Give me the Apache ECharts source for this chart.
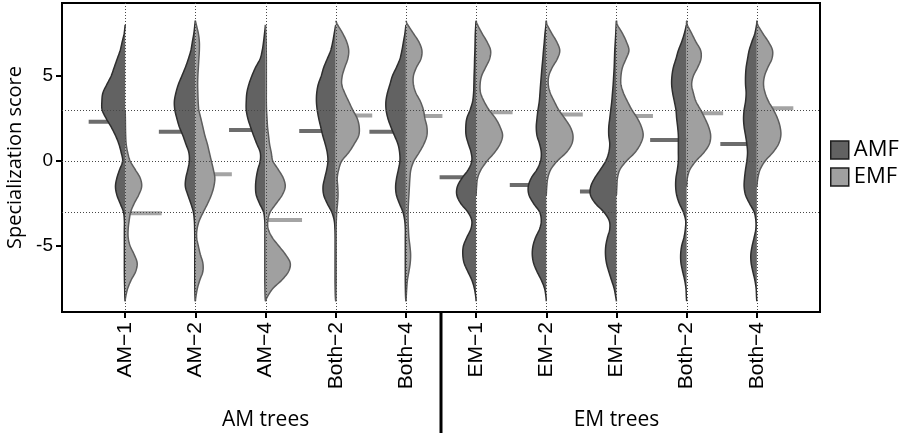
<!DOCTYPE html>
<html>
<head>
<meta charset="utf-8">
<script src="https://cdn.jsdelivr.net/npm/echarts@6/dist/echarts.min.js"></script>
<style>
  html, body { margin: 0; padding: 0; background: #fff; }
  #chart { width: 904px; height: 433px; }
</style>
</head>
<body>
<div id="chart"></div>
<script>
// Tree types (one split violin per type), grouped by host-tree mycorrhizal type
const CATEGORIES = ['AM\u22121', 'AM\u22122', 'AM\u22124', 'Both\u22122', 'Both\u22124',
                    'EM\u22121', 'EM\u22122', 'EM\u22124', 'Both\u22122', 'Both\u22124'];
const GROUP_NAMES = ['AM trees', 'EM trees'];
const GROUP_SIZES = [5, 5];

// Score levels at which the kernel densities are tabulated (top to bottom)
const SCORE_GRID = [8, 7.5, 7, 6.5, 6, 5.5, 5, 4.5, 4, 3.5, 3, 2.5, 2, 1.5, 1, 0.5, 0,
                    -0.5, -1, -1.5, -2, -2.5, -3, -3.5, -4, -4.5, -5, -5.5, -6, -6.5, -7, -7.5, -8];
// Observed score extent (violin tips)
const SCORE_RANGE = [-8.25, 8.25];

// AMF densities, one row per category, values follow SCORE_GRID
const AMF_DENSITY = [
  [0, 1, 3, 5, 8, 11, 14, 18.3, 22.3, 23.3, 23, 19, 14, 9.7, 6.3, 4, 2.5, 5.5, 8.3, 9.7, 8.3, 5, 1.7, 0.8, 0.8, 0.8, 0.8, 0.8, 0.8, 0.8, 0.7, 0.5, 0.3],
  [0.5, 1.5, 3, 4.5, 7, 10, 13.5, 17, 19.5, 21, 20.5, 18.5, 16, 12.5, 9.5, 6.5, 6, 7.5, 9.5, 10, 7.5, 4.5, 2, 1, 0.7, 0.6, 0.6, 0.6, 0.6, 0.6, 0.6, 0.5, 0.3],
  [0, 1, 2, 3.3, 5.5, 10, 13.7, 16.7, 18.7, 19.3, 19.3, 17.7, 15, 12, 8.7, 5.3, 5.3, 7.7, 9.3, 10, 9.3, 6, 2, 0.8, 0.6, 0.6, 0.6, 0.6, 0.6, 0.6, 0.6, 0.5, 0.3],
  [0, 1.5, 3, 5, 8.5, 12, 14.5, 17.5, 19, 19.3, 18.5, 17, 15, 13, 10.5, 8.5, 7.8, 9, 11, 12.7, 12, 8.5, 4, 1.5, 0.8, 0.6, 0.6, 0.6, 0.6, 0.6, 0.6, 0.5, 0.3],
  [0, 1, 2.5, 4, 6, 9.5, 13.5, 16, 18.5, 20, 19.8, 18, 15, 11.5, 8, 6.3, 6, 7.5, 9.3, 10.3, 9.5, 6.5, 3, 1.2, 0.6, 0.6, 0.6, 0.6, 0.6, 0.6, 0.6, 0.5, 0.3],
  [0.3, 0.8, 1, 1.2, 1.5, 1.7, 2, 2.2, 2.5, 3.5, 6, 9.3, 10.3, 10, 7.7, 5, 4.3, 7.7, 14, 18.7, 19.3, 15.3, 8.3, 4.3, 5.3, 9.3, 12.7, 13.3, 12, 8.3, 4.3, 1.7, 0.3],
  [0.3, 1.3, 2, 2.8, 3.5, 4.3, 5, 5.7, 6.3, 7, 8.3, 9.3, 10, 9.3, 6.7, 5, 5.7, 9.3, 15, 18, 17.3, 12.7, 6.7, 5, 6.7, 10.7, 13.3, 14, 12.7, 9.3, 5, 1.7, 0.3],
  [0.3, 0.7, 1.2, 1.7, 2, 2.3, 2.8, 3.3, 4, 4.7, 5.7, 6.7, 7.7, 7.7, 6.7, 7.7, 10.7, 16, 21.7, 25.7, 26, 21, 12.7, 7.3, 6.7, 9, 10.7, 11, 10, 7.7, 5, 2.3, 0.7],
  [0.3, 2.3, 5, 8.3, 10.7, 13.3, 14.7, 15, 14, 12.3, 10.7, 10, 9, 8.3, 8.3, 8.3, 8.3, 9.3, 10.7, 11, 10, 7.3, 3.3, 1, 1.3, 2.7, 5, 6, 5.7, 4, 2, 0.7, 0.3],
  [0.3, 2, 5, 7.7, 9.3, 10.7, 11.3, 11.3, 10.7, 11.3, 12.7, 13.3, 12.7, 11.3, 10, 9.3, 10, 11.3, 12.3, 12.7, 11.3, 7.3, 2.7, 1, 1, 2.7, 4.7, 6, 5.7, 4, 2, 0.7, 0.3]
];

// EMF densities, one row per category, values follow SCORE_GRID
const EMF_DENSITY = [
  [0, 0, 0, 0, 0, 0, 0, 0, 0, 0, 0, 0.2, 0.3, 0.5, 1, 2.5, 5, 10, 15, 16.5, 13.5, 9, 5.5, 4, 3, 3, 5, 9, 12, 10.5, 6, 2.5, 0.5],
  [1, 3, 4, 4, 3.5, 3, 2.5, 2.3, 2.5, 2.8, 3.5, 5.5, 7.5, 9.5, 12, 14, 16, 18, 19.5, 18.5, 16, 12.3, 8, 4, 1.7, 1.3, 3, 5, 7.5, 7.5, 4.5, 2, 0.5],
  [0, 0.3, 0.6, 0.7, 0.8, 0.8, 0.8, 0.8, 0.8, 0.8, 1, 1.5, 2, 3, 4, 5.7, 7.3, 12.7, 17.7, 19.7, 16.7, 10.7, 4.7, 2.3, 2.7, 6.7, 13.3, 20, 24.7, 23, 16.3, 7.3, 1.7],
  [2, 7, 11, 13, 12, 9, 6.5, 6, 9, 13, 17, 21.5, 23.5, 23, 18.5, 13, 6, 3, 1.5, 2, 2.3, 1.8, 1, 0.6, 0.4, 0.4, 0.4, 0.4, 0.4, 0.4, 0.4, 0.3, 0.2],
  [2, 7.5, 13, 16, 15, 10.5, 7.5, 7.5, 10, 14.5, 17.5, 19, 21, 21, 18, 13.3, 8, 5, 4, 3.5, 3, 2.5, 2.2, 2.2, 2.5, 3, 4, 4.7, 4.3, 3, 1.5, 0.8, 0.3],
  [1.5, 6, 11, 14.5, 13.5, 9.5, 5.5, 4, 4.5, 8, 13, 19.5, 24, 26.5, 24, 18.5, 11, 5, 1.5, 0.5, 0, 0, 0, 0, 0, 0, 0, 0, 0, 0, 0, 0, 0],
  [1, 5.5, 10.5, 13.5, 11, 6, 2.5, 2, 4, 8, 12.5, 18.5, 24, 26.7, 25.5, 20, 11, 4.5, 1.5, 0.5, 0, 0, 0, 0, 0, 0, 0, 0, 0, 0, 0, 0, 0],
  [1, 6, 10, 12.5, 9.5, 6, 4.5, 4.5, 7, 11, 15.5, 21, 25, 26.7, 24, 18.5, 10, 3.5, 1, 0.4, 0, 0, 0, 0, 0, 0, 0, 0, 0, 0, 0, 0, 0],
  [0.7, 5, 9.3, 14, 14.3, 11, 6.7, 5, 6.7, 9.3, 14, 18.3, 22, 24, 22.7, 17.3, 9.3, 3.3, 0.7, 0, 0, 0, 0, 0, 0, 0, 0, 0, 0, 0, 0, 0, 0],
  [1, 6, 11.7, 15.7, 15, 11, 7.7, 6.7, 8.3, 11.7, 16.7, 20.7, 23.3, 24, 21.7, 16, 8.3, 3.3, 1, 0, 0, 0, 0, 0, 0, 0, 0, 0, 0, 0, 0, 0, 0]
];

// Mean specialization score per category
const AMF_MEAN = [2.31, 1.72, 1.82, 1.76, 1.72, -0.96, -1.41, -1.8, 1.24, 1.0];
const EMF_MEAN = [-3.08, -0.78, -3.47, 2.67, 2.65, 2.86, 2.74, 2.65, 2.8, 3.1];

// Reference levels and axis ticks
const REFERENCE_LINES = [-3, 0, 3];
const Y_TICKS = [-5, 0, 5];

const COLORS = {
  AMF: { fill: '#626262', stroke: '#2e2e2e', mean: '#6c6c6c' },
  EMF: { fill: '#a0a0a0', stroke: '#5e5e5e', mean: '#a4a4a4' }
};
const DENSITY_SCALE = 1 / 70.2;   // density units -> x-axis units
const MEAN_BAR_LENGTH = 0.52;      // in x-axis units
const X_MIN = 0.1, X_MAX = 10.9;
const POSITIONS = CATEGORIES.map((_, i) => i + 1);

// Uniform Catmull-Rom through pixel points, for a smooth outline
function catmullRom(pts, steps) {
  if (pts.length < 3) return pts.slice();
  const out = [];
  for (let i = 0; i < pts.length - 1; i++) {
    const p0 = pts[Math.max(i - 1, 0)], p1 = pts[i], p2 = pts[i + 1], p3 = pts[Math.min(i + 2, pts.length - 1)];
    for (let s = 0; s < steps; s++) {
      const t = s / steps, t2 = t * t, t3 = t2 * t;
      const f = (a, b, c, d) => 0.5 * ((2 * b) + (-a + c) * t + (2 * a - 5 * b + 4 * c - d) * t2 + (-a + 3 * b - 3 * c + d) * t3);
      out.push([f(p0[0], p1[0], p2[0], p3[0]), f(p0[1], p1[1], p2[1], p3[1])]);
    }
  }
  out.push(pts[pts.length - 1]);
  return out;
}

function halfViolin(api, pos, dens, side, colors) {
  let first = dens.findIndex(d => d > 0);
  let last = dens.length - 1 - dens.slice().reverse().findIndex(d => d > 0);
  const data = [];
  if (first === 0) data.push([pos, SCORE_RANGE[1]]);
  const s = Math.max(first - 1, 0), e = Math.min(last + 1, dens.length - 1);
  for (let i = s; i <= e; i++) data.push([pos + side * dens[i] * DENSITY_SCALE, SCORE_GRID[i]]);
  if (last === dens.length - 1) data.push([pos, SCORE_RANGE[0]]);
  const px = data.map(p => api.coord(p));
  const cx = api.coord([pos, 0])[0];
  const curve = catmullRom(px, 8).map(p => [side < 0 ? Math.min(p[0], cx) : Math.max(p[0], cx), p[1]]);
  const topY = curve[0][1], botY = curve[curve.length - 1][1];
  const fillPts = curve.concat([[cx, botY], [cx, topY]]);
  return [
    { type: 'polygon', shape: { points: fillPts }, style: { fill: colors.fill, stroke: null } },
    { type: 'polyline', shape: { points: curve }, style: { stroke: colors.stroke, lineWidth: 1.5, fill: null } }
  ];
}

function violinSeries(name, densities, side) {
  return {
    name: name,
    type: 'custom',
    z: 3,
    clip: true,
    encode: { x: 0, y: 1 },
    itemStyle: { color: COLORS[name].fill },
    data: POSITIONS.map(p => [p, 0]),
    renderItem: function (params, api) {
      const i = params.dataIndex;
      return { type: 'group', children: halfViolin(api, POSITIONS[i], densities[i], side, COLORS[name]) };
    }
  };
}

function meanSeries(name, means, side) {
  return {
    name: name + ' mean',
    type: 'custom',
    z: 2,
    encode: { x: 0, y: 1 },
    data: POSITIONS.map((p, i) => [p, means[i]]),
    renderItem: function (params, api) {
      const p = api.value(0), m = api.value(1);
      const a = api.coord([p, m]), b = api.coord([p + side * MEAN_BAR_LENGTH, m]);
      return { type: 'line', shape: { x1: a[0], y1: a[1], x2: b[0], y2: b[1] },
               style: { stroke: COLORS[name].mean, lineWidth: 4 } };
    }
  };
}

const chart = echarts.init(document.getElementById('chart'), null, { renderer: 'canvas' });

const guideSeries = {
  name: 'guides',
  type: 'custom',
  z: 5,
  silent: true,
  encode: { x: 0, y: 1 },
  data: [[POSITIONS[0], 0]],
  renderItem: function (params, api) {
    const cs = params.coordSys;
    const children = [];
    const dot = { stroke: '#474747', lineWidth: 1, lineDash: [1, 2] };
    REFERENCE_LINES.forEach(v => {
      const y = Math.round(api.coord([X_MIN, v])[1]) + 0.5;
      children.push({ type: 'line', shape: { x1: cs.x, y1: y, x2: cs.x + cs.width, y2: y }, style: dot });
    });
    POSITIONS.forEach(p => {
      const x = Math.round(api.coord([p, 0])[0]) + 0.5;
      children.push({ type: 'line', shape: { x1: x, y1: cs.y, x2: x, y2: cs.y + cs.height }, style: dot });
    });
    return { type: 'group', children: children };
  }
};

// Group divider and group captions below the category labels
const groupSeries = {
  name: 'groups',
  type: 'custom',
  z: 5,
  silent: true,
  clip: false,
  encode: { x: 0, y: 1 },
  data: [[POSITIONS[0], 0]],
  renderItem: function (params, api) {
    const cs = params.coordSys;
    const bottom = cs.y + cs.height;
    const H = api.getHeight();
    const children = [];
    let start = 0;
    GROUP_SIZES.forEach((n, g) => {
      const firstPos = POSITIONS[start], lastPos = POSITIONS[start + n - 1];
      const cx = api.coord([(firstPos + lastPos) / 2, 0])[0];
      children.push({ type: 'text', style: { text: GROUP_NAMES[g], x: cx, y: H - 13,
        fill: '#000', font: '21px "Open Sans"', align: 'center', verticalAlign: 'middle' } });
      if (g < GROUP_SIZES.length - 1) {
        const x = api.coord([(lastPos + POSITIONS[start + n]) / 2, 0])[0];
        children.push({ type: 'line', shape: { x1: x, y1: bottom, x2: x, y2: H }, style: { stroke: '#000', lineWidth: 3 } });
      }
      start += n;
    });
    return { type: 'group', children: children };
  }
};

chart.setOption({
  animation: false,
  backgroundColor: '#fff',
  grid: { left: 62, right: 84, top: 3, bottom: 121, containLabel: false, outerBoundsMode: 'none',
          show: true, borderColor: '#000', borderWidth: 2, backgroundColor: 'transparent' },
  legend: {
    orient: 'vertical', left: 830, top: 139, padding: 0, itemWidth: 18, itemHeight: 18, itemGap: 5,
    selectedMode: false, icon: 'rect',
    textStyle: { fontSize: 22, fontFamily: 'Open Sans', color: '#000' },
    data: [
      { name: 'AMF', itemStyle: { color: COLORS.AMF.fill, borderColor: '#1e1e1e', borderWidth: 1.5 } },
      { name: 'EMF', itemStyle: { color: COLORS.EMF.fill, borderColor: '#1e1e1e', borderWidth: 1.5 } }
    ]
  },
  xAxis: {
    type: 'value', min: X_MIN, max: X_MAX,
    splitLine: { show: false },
    axisLine: { show: true, onZero: false, lineStyle: { color: '#000', width: 2 } },
    axisTick: { show: true, length: 6, customValues: POSITIONS, lineStyle: { color: '#000', width: 2 } },
    axisLabel: {
      customValues: POSITIONS, rotate: 90, margin: 10,
      fontSize: 21, fontFamily: 'Liberation Sans', color: '#000',
      formatter: v => CATEGORIES[Math.round(v) - 1]
    }
  },
  yAxis: {
    type: 'value', min: -8.88, max: 9.29,
    name: 'Specialization score', nameLocation: 'middle', nameGap: 31,
    nameTextStyle: { fontSize: 20, fontFamily: 'Open Sans', color: '#000' },
    splitLine: { show: false },
    axisLine: { show: true, onZero: false, lineStyle: { color: '#000', width: 2 } },
    axisTick: { show: true, length: 6, customValues: Y_TICKS, lineStyle: { color: '#000', width: 2 } },
    axisLabel: { customValues: Y_TICKS, margin: 9, fontSize: 19, fontFamily: 'Liberation Sans', color: '#000',
                 formatter: v => String(v) }
  },
  series: [
    meanSeries('AMF', AMF_MEAN, -1),
    meanSeries('EMF', EMF_MEAN, 1),
    violinSeries('AMF', AMF_DENSITY, -1),
    violinSeries('EMF', EMF_DENSITY, 1),
    guideSeries,
    groupSeries
  ]
});
</script>
</body>
</html>
